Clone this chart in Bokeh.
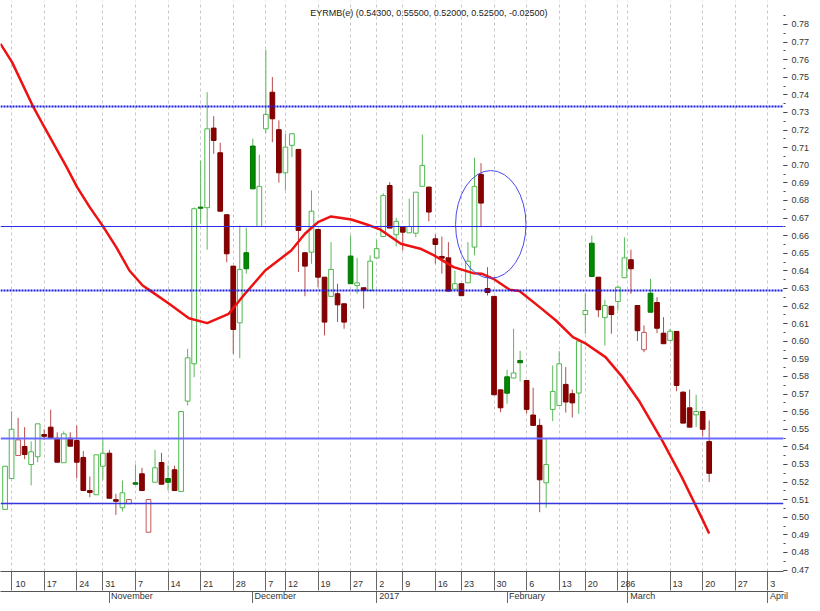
from bokeh.plotting import figure
from bokeh.models import (Range1d, FixedTicker, PrintfTickFormatter,
                          LinearAxis, Span, Label, ColumnDataSource)
from bokeh.embed import file_html
from bokeh.resources import INLINE

# ---------------- data ----------------
opens = [0.5045, 0.5220, 0.5351, 0.5402, 0.5300, 0.5344, 0.5470, 0.5512, 0.5449, 0.5310,
         0.5449, 0.5436, 0.5340, 0.5152, 0.5128, 0.5290, 0.5364, 0.5100, 0.5054, 0.5077,
         0.5196, 0.5247, 0.4915, 0.5199, 0.5311, 0.5220, 0.5270, 0.5147, 0.5660, 0.5872,
         0.6762, 0.6759, 0.7211, 0.7071, 0.6719, 0.6427, 0.6105, 0.6503, 0.7109, 0.6652,
         0.7207, 0.7415, 0.7202, 0.6957, 0.7113, 0.7090, 0.6503, 0.6506, 0.6635, 0.6364,
         0.6255, 0.6270, 0.6213, 0.6484, 0.6317, 0.6304, 0.6289, 0.6473, 0.6595, 0.6885,
         0.6605, 0.6652, 0.6616, 0.6614, 0.6880, 0.6876, 0.6582, 0.6482, 0.6474, 0.6296,
         0.6327, 0.6332, 0.6535, 0.6948, 0.6300, 0.6255, 0.5724, 0.5798, 0.5791, 0.5891,
         0.5777, 0.5581, 0.5522, 0.5196, 0.5613, 0.5635, 0.5755, 0.5702, 0.5706, 0.6152,
         0.6557, 0.6364, 0.6134, 0.6199, 0.6226, 0.6361, 0.6463, 0.6203, 0.5952, 0.6273,
         0.6220, 0.6046, 0.6005, 0.6056, 0.5711, 0.5622, 0.5582, 0.5601, 0.5430]
highs = [0.5290, 0.5603, 0.5565, 0.5512, 0.5431, 0.5531, 0.5500, 0.5611, 0.5483, 0.5488,
         0.5483, 0.5522, 0.5376, 0.5232, 0.5355, 0.5452, 0.5383, 0.5133, 0.5209, 0.5101,
         0.5300, 0.5281, 0.5101, 0.5383, 0.5366, 0.5295, 0.5293, 0.5601, 0.5957, 0.6760,
         0.7027, 0.7415, 0.7279, 0.7128, 0.6719, 0.6427, 0.6658, 0.6645, 0.7151, 0.7060,
         0.7656, 0.7501, 0.7255, 0.7179, 0.7179, 0.7090, 0.6503, 0.6857, 0.6635, 0.6364,
         0.6563, 0.6327, 0.6213, 0.6601, 0.6474, 0.6304, 0.6488, 0.6577, 0.6841, 0.6904,
         0.6702, 0.6652, 0.6810, 0.6847, 0.7175, 0.6876, 0.6607, 0.6595, 0.6563, 0.6402,
         0.6327, 0.6563, 0.7043, 0.7012, 0.6421, 0.6255, 0.5724, 0.5838, 0.6071, 0.5945,
         0.5777, 0.5736, 0.5560, 0.5446, 0.5863, 0.5944, 0.5853, 0.5726, 0.6001, 0.6273,
         0.6601, 0.6364, 0.6236, 0.6199, 0.6317, 0.6591, 0.6520, 0.6203, 0.6090, 0.6355,
         0.6251, 0.6137, 0.6070, 0.6056, 0.5715, 0.5726, 0.5696, 0.5601, 0.5550]
lows = [0.5045, 0.5220, 0.5351, 0.5330, 0.5181, 0.5313, 0.5440, 0.5450, 0.5313, 0.5310,
        0.5404, 0.5222, 0.5152, 0.5114, 0.5128, 0.5213, 0.5108, 0.5014, 0.5033, 0.5077,
        0.5188, 0.5152, 0.4915, 0.5199, 0.5188, 0.5152, 0.5152, 0.5147, 0.5635, 0.5796,
        0.6668, 0.6520, 0.7065, 0.6739, 0.6449, 0.5929, 0.5904, 0.6384, 0.6866, 0.6652,
        0.7182, 0.7131, 0.6901, 0.6857, 0.7046, 0.6393, 0.6256, 0.6440, 0.6307, 0.6033,
        0.6255, 0.6109, 0.6071, 0.6327, 0.6270, 0.6185, 0.6289, 0.6473, 0.6595, 0.6643,
        0.6540, 0.6516, 0.6616, 0.6591, 0.6880, 0.6682, 0.6440, 0.6384, 0.6285, 0.6296,
        0.6259, 0.6332, 0.6488, 0.6648, 0.6260, 0.5696, 0.5597, 0.5645, 0.5791, 0.5772,
        0.5590, 0.5522, 0.5029, 0.5054, 0.5546, 0.5635, 0.5595, 0.5567, 0.5588, 0.6043,
        0.6368, 0.6137, 0.5976, 0.6043, 0.6175, 0.6361, 0.6270, 0.6001, 0.5938, 0.6165,
        0.6046, 0.5986, 0.6005, 0.5716, 0.5535, 0.5512, 0.5512, 0.5459, 0.5200]
closes = [0.5290, 0.5500, 0.5440, 0.5357, 0.5372, 0.5531, 0.5460, 0.5450, 0.5313, 0.5474,
          0.5404, 0.5313, 0.5152, 0.5141, 0.5355, 0.5364, 0.5108, 0.5091, 0.5139, 0.5101,
          0.5188, 0.5152, 0.5101, 0.5281, 0.5188, 0.5199, 0.5152, 0.5601, 0.5906, 0.6753,
          0.6756, 0.7207, 0.7141, 0.6739, 0.6497, 0.6067, 0.6408, 0.6412, 0.6866, 0.6880,
          0.7289, 0.7264, 0.6957, 0.7103, 0.7179, 0.6630, 0.6427, 0.6739, 0.6364, 0.6109,
          0.6408, 0.6207, 0.6109, 0.6327, 0.6332, 0.6289, 0.6455, 0.6526, 0.6828, 0.6643,
          0.6681, 0.6620, 0.6652, 0.6847, 0.6999, 0.6734, 0.6550, 0.6472, 0.6285, 0.6327,
          0.6259, 0.6455, 0.6880, 0.6785, 0.6277, 0.5696, 0.5622, 0.5705, 0.5820, 0.5878,
          0.5613, 0.5522, 0.5213, 0.5300, 0.5715, 0.5872, 0.5655, 0.5650, 0.6001, 0.6175,
          0.6368, 0.6179, 0.6203, 0.6152, 0.6307, 0.6474, 0.6412, 0.6060, 0.6050, 0.6165,
          0.6074, 0.5986, 0.6057, 0.5749, 0.5535, 0.5512, 0.5601, 0.5500, 0.5250]

# moving-average line (trading-day index, value)
ma_x = [-0.7, 1.07, 4.35, 6.03, 9.44, 11.05, 12.98, 15.0, 17.05, 19.07, 21.1, 22.37, 25.16,
        28.2, 31.0, 34.3, 36.8, 39.9, 41.9, 43.9, 46.0, 48.0, 50.0, 53.1, 55.6, 57.6, 60.7,
        63.7, 65.8, 68.8, 71.8, 73.1, 74.9, 77.4, 78.9, 82.0, 84.5, 87.1, 89.1, 92.1, 94.7,
        97.2, 100.8, 103.8, 106.8, 108.0]
ma_y = [0.7690, 0.7586, 0.7330, 0.7216, 0.6989, 0.6876, 0.6762, 0.6654, 0.6535, 0.6402,
        0.6317, 0.6285, 0.6213, 0.6131, 0.6103, 0.6156, 0.6270, 0.6402, 0.6459, 0.6516,
        0.6611, 0.6677, 0.6709, 0.6692, 0.6662, 0.6634, 0.6554, 0.6526, 0.6488, 0.6421,
        0.6387, 0.6384, 0.6355, 0.6293, 0.6285, 0.6194, 0.6118, 0.6023, 0.5986, 0.5910,
        0.5796, 0.5664, 0.5436, 0.5228, 0.5001, 0.4908]

# horizontal support / resistance levels
levels = [0.7334, 0.6652, 0.6289, 0.5448, 0.5078]

# highlighted zone (ellipse): centre index, centre value, width (days), height (price)
zone_x, zone_y, zone_w, zone_h = 74.5, 0.6664, 10.8, 0.0612

# day ticks and month ticks (trading-day index)
day_tick_idx = [1, 6, 11, 15, 20, 25, 30, 35, 40, 43, 48, 53, 57, 61, 66, 70, 75, 80, 85,
                89, 94.0, 95.5, 102, 107, 112, 117]
day_tick_lbl = ["10", "17", "24", "31", "7", "14", "21", "28", "7", "12", "19", "27", "2",
                "9", "16", "23", "30", "6", "13", "20", "28", "6", "13", "20", "27", "3"]
month_tick_idx = [16, 38, 57, 77, 95.5, 117]
month_tick_lbl = ["November", "December", "2017", "February", "March", "April"]

# price ticks
price_ticks = [round(0.47 + 0.01 * i, 2) for i in range(32)]
price_minor = [round(0.465 + 0.005 * i, 3) for i in range(65)]

title_text = "EYRMB(e) (0.54300, 0.55500, 0.52000, 0.52500, -0.02500)"

FONT = "Liberation Sans"
FS = 9  # px

# approximate Arial/Liberation advance widths (em) for left-aligning tick labels
_W = {"0": .556, "1": .556, "2": .556, "3": .556, "4": .556, "5": .556, "6": .556,
      "7": .556, "8": .556, "9": .556, "N": .722, "o": .556, "v": .5, "e": .556,
      "m": .833, "b": .556, "r": .333, "D": .722, "c": .5, "F": .611, "u": .556,
      "a": .556, "y": .5, "M": .833, "h": .556, "A": .667, "p": .556, "i": .222, "l": .222}


def left_of_tick(s, gap_px=4):
    """Pad a centred label with no-break spaces so it reads to the right of its tick."""
    w = sum(_W.get(ch, .556) for ch in s) * FS
    k = int(round((w + gap_px) / (0.278 * FS)))
    return "\u00a0" * k + s


# ---------------- build candles ----------------
n = len(closes)
idx = list(range(n))
rise = [True] + [closes[i] >= closes[i - 1] for i in range(1, n)]
hollow = [closes[i] > opens[i] for i in range(n)]

wick_col = ["#5cb85c" if r else "#b84a4a" for r in rise]
body_fill, body_line = [], []
for r, h in zip(rise, hollow):
    if r and h:
        body_fill.append("#ffffff"); body_line.append("#4cb84c")
    elif r:
        body_fill.append("#008a00"); body_line.append("#007000")
    elif h:
        body_fill.append("#ffffff"); body_line.append("#c45a5a")
    else:
        body_fill.append("#880000"); body_line.append("#7a0000")

src = ColumnDataSource(dict(
    x=idx, o=opens, h=highs, l=lows, c=closes,
    top=[max(a, b) for a, b in zip(opens, closes)],
    bot=[min(a, b) for a, b in zip(opens, closes)],
    wc=wick_col, bf=body_fill, bl=body_line))

p = figure(width=812, height=603, output_backend="svg", toolbar_location=None,
           x_range=Range1d(-0.7, 119.4), y_range=Range1d(0.4692, 0.7936),
           y_axis_location="right", x_axis_location=None,
           min_border_left=0, min_border_top=0, min_border_bottom=0, min_border_right=0)
p.outline_line_color = None
p.background_fill_color = "white"
p.border_fill_color = "white"

# vertical dashed grid at day ticks
p.xgrid.ticker = FixedTicker(ticks=day_tick_idx)
p.xgrid.grid_line_color = "#c8c8c8"
p.xgrid.grid_line_dash = "3 3"
p.ygrid.grid_line_color = None

# right price axis
ya = p.yaxis[0]
ya.ticker = FixedTicker(ticks=price_ticks, minor_ticks=price_minor)
ya.formatter = PrintfTickFormatter(format="%.2f")
ya.axis_line_color = None
ya.major_tick_in = 0
ya.major_tick_out = 4
ya.minor_tick_in = 0
ya.minor_tick_out = 2
ya.major_tick_line_color = "#444444"
ya.minor_tick_line_color = "#444444"
ya.major_label_standoff = 4
ya.major_label_text_font = FONT
ya.major_label_text_font_size = f"{FS}px"
ya.major_label_text_color = "#333333"

# bottom axes: day row and month row
xa1 = LinearAxis(ticker=FixedTicker(ticks=day_tick_idx),
                 major_label_overrides={float(t): left_of_tick(s)
                                        for t, s in zip(day_tick_idx, day_tick_lbl)})
xa1.axis_line_color = "#555555"
xa1.major_tick_in = 0
xa1.major_tick_out = 19
xa1.minor_tick_line_color = None
xa1.major_tick_line_color = "#666666"
xa1.major_label_standoff = -12
xa1.major_label_text_font = FONT
xa1.major_label_text_font_size = f"{FS}px"
xa1.major_label_text_color = "#333333"
p.add_layout(xa1, "below")

xa2 = LinearAxis(ticker=FixedTicker(ticks=month_tick_idx),
                 major_label_overrides={float(t): left_of_tick(s)
                                        for t, s in zip(month_tick_idx, month_tick_lbl)})
xa2.axis_line_color = "#555555"
xa2.major_tick_in = 0
xa2.major_tick_out = 12
xa2.minor_tick_line_color = None
xa2.major_tick_line_color = "#666666"
xa2.major_label_standoff = -13
xa2.major_label_text_font = FONT
xa2.major_label_text_font_size = f"{FS}px"
xa2.major_label_text_color = "#333333"
p.add_layout(xa2, "below")

# level lines
level_styles = [("#1a1ae6", 2, "2 1"), ("#2a2aee", 1, "solid"), ("#1a1ae6", 2, "2 1"),
                ("#6a6aff", 2, "solid"), ("#3434e0", 1.5, "solid")]
for lv, (col, w, dash) in zip(levels, level_styles):
    p.add_layout(Span(location=lv, dimension="width", line_color=col,
                      line_width=w, line_dash=dash))

# candles
p.segment(x0="x", y0="l", x1="x", y1="h", source=src, line_color="wc", line_width=1)
p.vbar(x="x", width=0.72, top="top", bottom="bot", source=src,
       fill_color="bf", line_color="bl", line_width=1)

# moving average
p.line(ma_x, ma_y, line_color="#ee1111", line_width=2.5)

# highlighted zone
p.ellipse(x=[zone_x], y=[zone_y], width=zone_w, height=zone_h,
          fill_color=None, line_color="#4a4aee", line_width=1)

# title inside plot
p.add_layout(Label(x=65.0, y=0.7936, text=title_text, text_align="center",
                   text_baseline="top", y_offset=-7, text_font=FONT,
                   text_font_size=f"{FS}px", text_color="#222222"))

open("out.html", "w").write(file_html(p, INLINE))
